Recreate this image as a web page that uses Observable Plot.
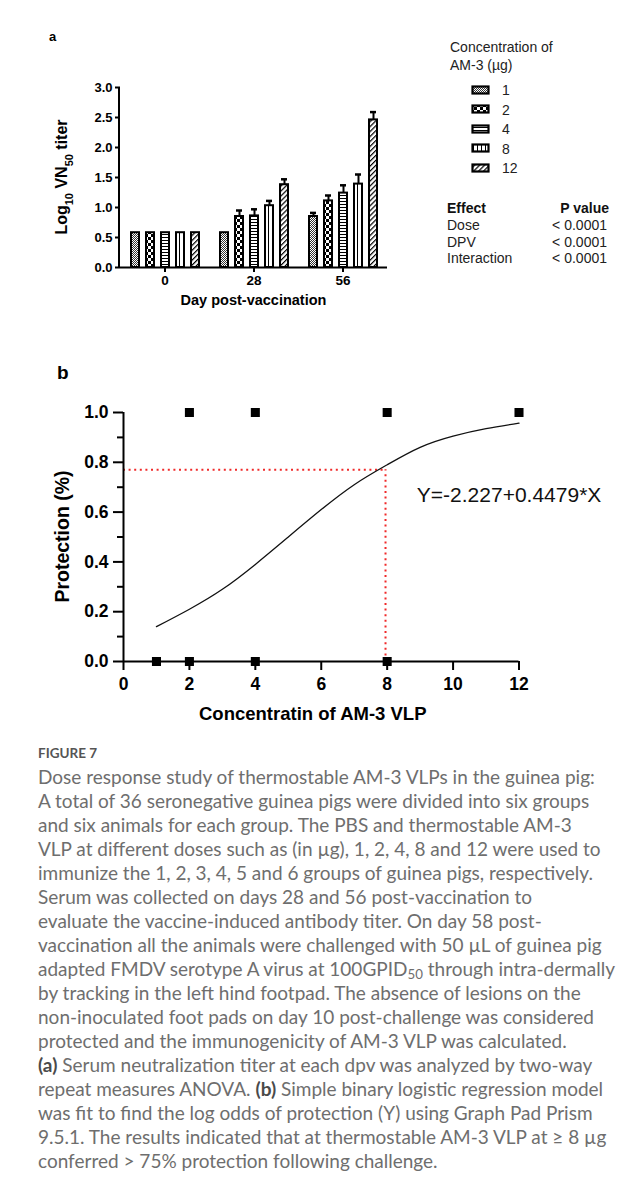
<!DOCTYPE html>
<html><head><meta charset="utf-8">
<script src="https://cdn.jsdelivr.net/npm/d3@7"></script>
<script src="https://cdn.jsdelivr.net/npm/@observablehq/plot@0.6"></script>
<style>
body{margin:0;background:#fff;}
#page{position:relative;width:641px;height:1182px;overflow:hidden;font-family:"Liberation Sans",Arial,sans-serif;color:#111;background:#fff;}
.abs{position:absolute;white-space:nowrap;}
.cap{position:absolute;left:38px;white-space:nowrap;font-family:Lato,"Open Sans",sans-serif;color:#6e6e6e;line-height:24px;}
.cap b{color:#4a4a4a;font-weight:700;}
.cap sub{font-size:0.7em;vertical-align:-0.25em;line-height:0;}
</style></head><body><div id="page"></div>
<script>
// ---------- data: panel a ----------
const days = [0, 28, 56];
const doses = [1, 2, 4, 8, 12];
const titerDay0 = [0.58, 0.58, 0.58, 0.58, 0.58];
const titerDay28 = [0.58, 0.85, 0.86, 1.03, 1.38];
const titerDay56 = [0.85, 1.11, 1.24, 1.39, 2.46];
const upperDay0 = [null, null, null, null, null];
const upperDay28 = [null, 0.95, 0.97, 1.11, 1.47];
const upperDay56 = [0.91, 1.20, 1.37, 1.55, 2.59];
const yTicksA = [0, 0.5, 1.0, 1.5, 2.0, 2.5, 3.0];
const effects = ["Dose", "DPV", "Interaction"];
const pValues = ["< 0.0001", "< 0.0001", "< 0.0001"];

// ---------- data: panel b ----------
const dosesProtected = [2, 4, 8, 12];
const dosesUnprotected = [1, 2, 4, 8];
const fitDose = [1, 2, 3, 4, 5, 6, 7, 8, 9, 10, 11, 12];
const fitProtection = [0.14, 0.21, 0.29, 0.39, 0.50, 0.61, 0.71, 0.79, 0.86, 0.905, 0.935, 0.957];
const cutoffDose = [7.95];
const cutoffProtection = [0.77];
const xTicksB = [0, 2, 4, 6, 8, 10, 12];
const yTicksB = [0, 0.2, 0.4, 0.6, 0.8, 1.0];
const yMinorB = [0.1, 0.3, 0.5, 0.7, 0.9];
const equationText = ["Y=-2.227+0.4479*X"];

const FONT = '"Liberation Sans", Arial, sans-serif';
const RED = "#f02a2a";
const page = document.getElementById("page");

// ---------- fill patterns ----------
const defsSvg = d3.select(page).append("svg").attr("width", 1).attr("height", 1)
  .style("position", "absolute").style("left", "-10px").style("top", "-10px");
const defs = defsSvg.append("defs");
function pat(id, w, h, tr) {
  const p = defs.append("pattern").attr("id", id).attr("patternUnits", "userSpaceOnUse")
    .attr("width", w).attr("height", h);
  if (tr) p.attr("patternTransform", tr);
  p.append("rect").attr("width", w).attr("height", h).attr("fill", "#fff");
  return p;
}
let p1 = pat("pat-1", 2, 2);
p1.append("rect").attr("width", 1).attr("height", 1).attr("fill", "#333");
p1.append("rect").attr("x", 1).attr("y", 1).attr("width", 1).attr("height", 1).attr("fill", "#333");
let p2 = pat("pat-2", 6, 6);
p2.append("rect").attr("width", 3).attr("height", 3).attr("fill", "#000");
p2.append("rect").attr("x", 3).attr("y", 3).attr("width", 3).attr("height", 3).attr("fill", "#000");
let p4 = pat("pat-4", 3, 3);
p4.append("rect").attr("width", 3).attr("height", 1).attr("fill", "#000");
let p8 = pat("pat-8", 4, 4);
p8.append("rect").attr("x", 2).attr("width", 1).attr("height", 4).attr("fill", "#000");
let p12 = pat("pat-12", 3.5, 3.5, "rotate(45)");
p12.append("rect").attr("width", 1.2).attr("height", 3.5).attr("fill", "#000");

// ---------- panel a ----------
const titerByDay = [titerDay0, titerDay28, titerDay56];
const upperByDay = [upperDay0, upperDay28, upperDay56];
const bars = days.flatMap((day, i) => doses.map((dose, j) => ({day, dose, value: titerByDay[i][j], upper: upperByDay[i][j]})));
const errs = bars.filter(d => d.upper != null);

const plotA = Plot.plot({
  width: 400, height: 320,
  marginLeft: 119, marginRight: 12, marginTop: 87, marginBottom: 53,
  facet: {margin: 0, marginTop: 0, marginRight: 0, marginBottom: 0, marginLeft: 0},
  style: {fontFamily: FONT, fontSize: "13px", fontWeight: "bold", color: "#000", background: "transparent", overflow: "visible"},
  fx: {domain: days, padding: 0, axis: null},
  x: {domain: doses, paddingInner: 0.487, paddingOuter: 0.628, axis: null},
  y: {domain: [0, 3], axis: null},
  color: {type: "identity"},
  marks: [
    Plot.barY(bars, {fx: "day", x: "dose", y: "value", fill: d => `url(#pat-${d.dose})`, stroke: "#000", strokeWidth: 2}),
    Plot.ruleX(errs, {fx: "day", x: "dose", y1: "value", y2: "upper", stroke: "#000", strokeWidth: 2}),
    Plot.tickY(errs, {fx: "day", x: "dose", y: "upper", stroke: "#000", strokeWidth: 2.5, insetLeft: 1, insetRight: 1}),
    Plot.ruleY([0], {stroke: "#000", strokeWidth: 2}),
    Plot.axisY({ticks: yTicksA, tickFormat: d => d.toFixed(1), tickSize: 5, tickPadding: 3, stroke: "#000", strokeWidth: 2, fontSize: 13, fontWeight: "bold", fill: "#000", label: null}),
    Plot.axisFx({anchor: "bottom", tickSize: 5, tickPadding: 3, stroke: "#000", strokeWidth: 2, fontSize: 13.5, fontWeight: "bold", fill: "#000", label: null})
  ]
});
plotA.style.position = "absolute"; plotA.style.left = "0px"; plotA.style.top = "0px";
page.appendChild(plotA);
{
  const svg = d3.select(plotA);
  const fxR = plotA.scale("fx").range, yR = plotA.scale("y").range;
  // y axis line along the left edge of the frame
  svg.append("line").attr("x1", fxR[0]).attr("x2", fxR[0]).attr("y1", yR[0] + 1).attr("y2", yR[1])
    .attr("stroke", "#000").attr("stroke-width", 2);
  svg.append("text").attr("x", (fxR[0] + fxR[1]) / 2).attr("y", 305)
    .attr("text-anchor", "middle").attr("font-size", 14.5).attr("font-weight", "bold")
    .attr("font-family", FONT).attr("fill", "#000").text("Day post-vaccination");
  const t = svg.append("text").attr("transform", `translate(67,${(yR[0] + yR[1]) / 2}) rotate(-90)`)
    .attr("text-anchor", "middle").attr("font-size", 16).attr("font-weight", "bold")
    .attr("font-family", FONT).attr("fill", "#000");
  t.append("tspan").text("Log");
  t.append("tspan").attr("baseline-shift", "sub").attr("font-size", 11).text("10");
  t.append("tspan").text(" VN");
  t.append("tspan").attr("baseline-shift", "sub").attr("font-size", 11).text("50");
  t.append("tspan").text(" titer");
}

// panel labels
function addDiv(html, css) {
  const d = document.createElement("div");
  d.className = "abs"; d.innerHTML = html; Object.assign(d.style, css);
  page.appendChild(d); return d;
}
addDiv("a", {left: "49px", top: "29px", fontSize: "13px", fontWeight: "bold", color: "#000"});
addDiv("b", {left: "57px", top: "362px", fontSize: "19px", fontWeight: "bold", color: "#000"});

// legend
addDiv("Concentration of<br>AM-3 (µg)", {left: "450px", top: "38px", fontSize: "14px", lineHeight: "18px", color: "#222"});
doses.forEach((dose, i) => {
  const cy = 90 + i * 19.5;
  const sw = d3.select(page).append("svg").attr("width", 20).attr("height", 11)
    .style("position", "absolute").style("left", "471px").style("top", (cy - 5.5) + "px");
  sw.append("rect").attr("x", 1.5).attr("y", 1.5).attr("width", 16).attr("height", 7)
    .attr("fill", `url(#pat-${dose})`).attr("stroke", "#000").attr("stroke-width", 2.2);
  addDiv(String(dose), {left: "502px", top: (cy - 9) + "px", fontSize: "14px", lineHeight: "18px", color: "#222"});
});

// statistics table
addDiv("Effect", {left: "447px", top: "200px", fontSize: "14px", lineHeight: "16px", fontWeight: "bold", color: "#111"});
addDiv("P value", {right: (641 - 609) + "px", top: "200px", fontSize: "14px", lineHeight: "16px", fontWeight: "bold", color: "#111"});
effects.forEach((e, i) => {
  const top = 217 + i * 16.6;
  addDiv(e, {left: "447px", top: top + "px", fontSize: "14px", lineHeight: "16px", color: "#222"});
  addDiv(pValues[i], {right: (641 - 607) + "px", top: top + "px", fontSize: "14px", lineHeight: "16px", color: "#222"});
});

// ---------- panel b ----------
const outcomes = [
  ...dosesProtected.map(dose => ({dose, protected: 1})),
  ...dosesUnprotected.map(dose => ({dose, protected: 0}))
];
const fit = fitDose.map((x, i) => ({dose: x, p: fitProtection[i]}));

const plotB = Plot.plot({
  width: 641, height: 400,
  marginLeft: 123, marginRight: 122.5, marginTop: 82, marginBottom: 69,
  style: {fontFamily: FONT, fontSize: "17.5px", fontWeight: "bold", color: "#000", background: "transparent", overflow: "visible"},
  x: {domain: [0, 12], axis: null},
  y: {domain: [0, 1], axis: null},
  marks: [
    Plot.ruleY(cutoffProtection, {x1: 0, x2: cutoffDose[0], stroke: RED, strokeWidth: 2, strokeDasharray: "2,3.6"}),
    Plot.ruleX(cutoffDose, {y1: 0, y2: cutoffProtection[0], stroke: RED, strokeWidth: 2, strokeDasharray: "2,3.6"}),
    Plot.line(fit, {x: "dose", y: "p", curve: "natural", stroke: "#111", strokeWidth: 1.3}),
    Plot.ruleX([0], {y1: 0, y2: 1, stroke: "#000", strokeWidth: 2}),
    Plot.ruleY([0], {x1: 0, x2: 12, stroke: "#000", strokeWidth: 2}),
    Plot.axisY({ticks: yTicksB, tickFormat: d => d.toFixed(1), tickSize: 10, tickPadding: 5, stroke: "#000", strokeWidth: 2, fontSize: 17.5, fontWeight: "bold", fill: "#000", label: null}),
    Plot.axisY({ticks: yMinorB, tickFormat: () => "", tickSize: 6, stroke: "#000", strokeWidth: 2, label: null}),
    Plot.axisX({ticks: xTicksB, tickSize: 9, tickPadding: 7, stroke: "#000", strokeWidth: 2, fontSize: 17.5, fontWeight: "bold", fill: "#000", label: null}),
    Plot.dot(outcomes, {x: "dose", y: "protected", symbol: "square", r: 5.1, fill: "#000", stroke: null}),
    Plot.text(equationText, {x: 8.9, y: 0.667, text: d => d, textAnchor: "start", fontSize: 21, fontWeight: "normal", fill: "#111"})
  ]
});
plotB.style.position = "absolute"; plotB.style.left = "0px"; plotB.style.top = "330px";
page.insertBefore(plotB, page.querySelector(".abs"));
{
  const svg = d3.select(plotB);
  const xR = plotB.scale("x").range, yR = plotB.scale("y").range;
  svg.append("text").attr("x", (xR[0] + xR[1]) / 2 - 8).attr("y", 390)
    .attr("text-anchor", "middle").attr("font-size", 18.5).attr("font-weight", "bold")
    .attr("font-family", FONT).attr("fill", "#000").text("Concentratin of AM-3 VLP");
  svg.append("text").attr("transform", `translate(69,${(yR[0] + yR[1]) / 2}) rotate(-90)`)
    .attr("text-anchor", "middle").attr("font-size", 19.5).attr("font-weight", "bold")
    .attr("font-family", FONT).attr("fill", "#000").text("Protection (%)");
}

// ---------- caption ----------
const captionLines = [
  "Dose response study of thermostable AM-3 VLPs in the guinea pig:",
  "A total of 36 seronegative guinea pigs were divided into six groups",
  "and six animals for each group. The PBS and thermostable AM-3",
  "VLP at different doses such as (in µg), 1, 2, 4, 8 and 12 were used to",
  "immunize the 1, 2, 3, 4, 5 and 6 groups of guinea pigs, respectively.",
  "Serum was collected on days 28 and 56 post-vaccination to",
  "evaluate the vaccine-induced antibody titer. On day 58 post-",
  "vaccination all the animals were challenged with 50 µL of guinea pig",
  "adapted FMDV serotype A virus at 100GPID<sub>50</sub> through intra-dermally",
  "by tracking in the left hind footpad. The absence of lesions on the",
  "non-inoculated foot pads on day 10 post-challenge was considered",
  "protected and the immunogenicity of AM-3 VLP was calculated.",
  "<b>(a)</b> Serum neutralization titer at each dpv was analyzed by two-way",
  "repeat measures ANOVA. <b>(b)</b> Simple binary logistic regression model",
  "was fit to find the log odds of protection (Y) using Graph Pad Prism",
  "9.5.1. The results indicated that at thermostable AM-3 VLP at ≥ 8 µg",
  "conferred &gt; 75% protection following challenge."
];
const ctx = document.createElement("canvas").getContext("2d");
ctx.font = "17px Lato";
const w17 = ctx.measureText(captionLines[0]).width;
const capSize = Math.max(14, Math.min(19, 17 * 566 / w17));
const fig = document.createElement("div");
fig.className = "cap"; fig.textContent = "FIGURE 7";
Object.assign(fig.style, {top: "745px", fontSize: "13.5px", lineHeight: "16px", fontWeight: "700", color: "#555"});
page.appendChild(fig);
captionLines.forEach((line, i) => {
  const d = document.createElement("div");
  d.className = "cap"; d.innerHTML = line;
  d.style.top = (765 + i * 24) + "px"; d.style.fontSize = capSize + "px";
  page.appendChild(d);
});
</script></body></html>
